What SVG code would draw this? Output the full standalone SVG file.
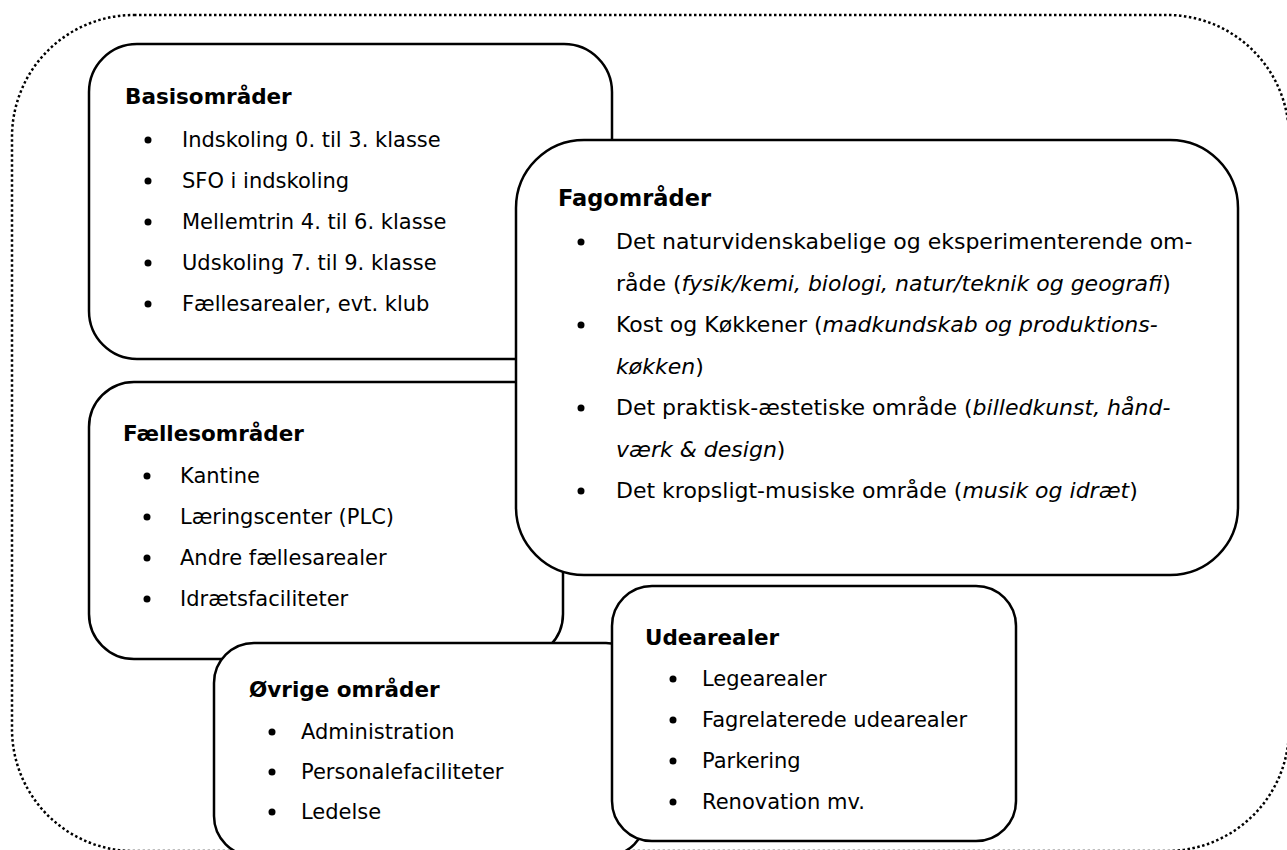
<svg xmlns="http://www.w3.org/2000/svg" width="1287" height="850" viewBox="0 0 1287 850">
<style>
.box{fill:#fff;stroke:#000;stroke-width:2.5}
.outer{fill:none;stroke:#000;stroke-width:2.5;stroke-dasharray:2.5 2.5}
text{font-family:"DejaVu Sans","Noto Sans",sans-serif;font-size:21px;fill:#000}
.t{font-weight:bold;font-size:21.5px}
.f{font-size:22px}
.ft{font-weight:bold;font-size:22.5px}
.i{font-style:italic}
.b{fill:#000}
</style>
<rect width="1287" height="850" fill="#fff"/>
<rect class="outer" x="12" y="15" width="1277" height="836" rx="122" ry="122"/>
<g id="basis">
<rect class="box" x="89" y="44" width="523" height="315" rx="48" ry="48"/>
<text class="t" x="125" y="104">Basisområder</text>
<circle class="b" cx="148" cy="140" r="3.5"/><text x="182" y="147">Indskoling 0. til 3. klasse</text>
<circle class="b" cx="148" cy="181" r="3.5"/><text x="182" y="188">SFO i indskoling</text>
<circle class="b" cx="148" cy="222" r="3.5"/><text x="182" y="229">Mellemtrin 4. til 6. klasse</text>
<circle class="b" cx="148" cy="263" r="3.5"/><text x="182" y="270">Udskoling 7. til 9. klasse</text>
<circle class="b" cx="148" cy="304" r="3.5"/><text x="182" y="311">Fællesarealer, evt. klub</text>
</g>
<g id="faelles">
<rect class="box" x="89" y="382" width="474" height="277" rx="45" ry="45"/>
<text class="t" x="123" y="441">Fællesområder</text>
<circle class="b" cx="147" cy="476" r="3.5"/><text x="180" y="483">Kantine</text>
<circle class="b" cx="147" cy="517" r="3.5"/><text x="180" y="524">Læringscenter (PLC)</text>
<circle class="b" cx="147" cy="558" r="3.5"/><text x="180" y="565">Andre fællesarealer</text>
<circle class="b" cx="147" cy="599" r="3.5"/><text x="180" y="606">Idrætsfaciliteter</text>
</g>
<g id="fag">
<rect class="box" x="516" y="140" width="722" height="435" rx="68" ry="68"/>
<text class="ft" x="558" y="206">Fagområder</text>
<circle class="b" cx="581" cy="242" r="3.5"/><text class="f" x="616" y="249">Det naturvidenskabelige og eksperimenterende om-</text>
<text class="f" x="616" y="291">råde (<tspan class="i">fysik/kemi, biologi, natur/teknik og geografi</tspan>)</text>
<circle class="b" cx="581" cy="325" r="3.5"/><text class="f" x="616" y="332">Kost og Køkkener (<tspan class="i">madkundskab og produktions-</tspan></text>
<text class="f" x="616" y="374"><tspan class="i">køkken</tspan>)</text>
<circle class="b" cx="581" cy="408" r="3.5"/><text class="f" x="616" y="415">Det praktisk-æstetiske område (<tspan class="i">billedkunst, hånd-</tspan></text>
<text class="f" x="616" y="457"><tspan class="i">værk &amp; design</tspan>)</text>
<circle class="b" cx="581" cy="491" r="3.5"/><text class="f" x="616" y="498">Det kropsligt-musiske område (<tspan class="i">musik og idræt</tspan>)</text>
</g>
<g id="oevrige">
<rect class="box" x="214" y="643" width="432" height="213" rx="40" ry="40"/>
<text class="t" x="249" y="697">Øvrige områder</text>
<circle class="b" cx="272" cy="732" r="3.5"/><text x="301" y="739">Administration</text>
<circle class="b" cx="272" cy="772" r="3.5"/><text x="301" y="779">Personalefaciliteter</text>
<circle class="b" cx="272" cy="812" r="3.5"/><text x="301" y="819">Ledelse</text>
</g>
<g id="ude">
<rect class="box" x="612" y="586" width="404" height="255" rx="40" ry="40"/>
<text class="t" x="645" y="645">Udearealer</text>
<circle class="b" cx="673" cy="679" r="3.5"/><text x="702" y="686">Legearealer</text>
<circle class="b" cx="673" cy="720" r="3.5"/><text x="702" y="727">Fagrelaterede udearealer</text>
<circle class="b" cx="673" cy="761" r="3.5"/><text x="702" y="768">Parkering</text>
<circle class="b" cx="673" cy="802" r="3.5"/><text x="702" y="809">Renovation mv.</text>
</g>
<g id="connectors"></g>
</svg>
